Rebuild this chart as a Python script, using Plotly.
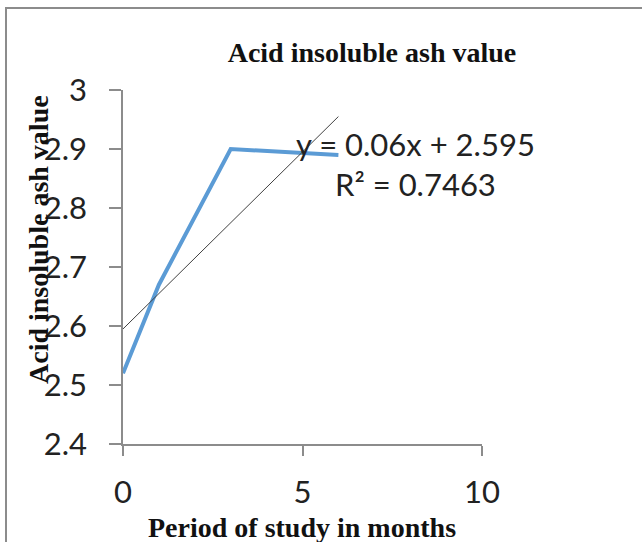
import plotly.graph_objects as go

months = [0, 1, 3, 6]
ash_values = [2.52, 2.67, 2.90, 2.89]
trend_slope = 0.06
trend_intercept = 2.595
trend_r2 = 0.7463
trend_x = [0, 6]
x_ticks = [0, 5, 10]
y_ticks = [2.4, 2.5, 2.6, 2.7, 2.8, 2.9, 3.0]
y_tick_labels = ["2.4", "2.5", "2.6", "2.7", "2.8", "2.9", "3"]

trend_y = [trend_slope * x + trend_intercept for x in trend_x]

fig = go.Figure()
fig.add_trace(go.Scatter(x=months, y=ash_values, mode="lines",
                         line=dict(color="#5B9BD5", width=4), showlegend=False))
fig.add_trace(go.Scatter(x=trend_x, y=trend_y, mode="lines",
                         line=dict(color="#404040", width=1), showlegend=False))

tick_font = dict(family="Lato, Liberation Sans, sans-serif", size=31, color="#222")
serif_bold = dict(family="Liberation Serif, Times New Roman, serif", size=28, color="#111")

fig.update_layout(
    width=642, height=542,
    margin=dict(l=123, r=160, t=90, b=98),
    paper_bgcolor="white", plot_bgcolor="white",
    title=dict(text="<b>Acid insoluble ash value</b>", x=(372) / 642, xanchor="center",
               y=1 - 52 / 542, yanchor="middle", font=serif_bold),
    xaxis=dict(range=[0, 10], tickvals=x_ticks, showgrid=False, zeroline=False,
               showline=True, linecolor="#8c8c8c", linewidth=1.5,
               ticks="outside", ticklen=10, tickcolor="#8c8c8c", tickwidth=1.5,
               tickfont=tick_font, ticklabelstandoff=10),
    yaxis=dict(range=[2.4, 3.0], tickvals=y_ticks, ticktext=y_tick_labels,
               showgrid=False, zeroline=False,
               showline=True, linecolor="#8c8c8c", linewidth=1.5,
               ticks="outside", ticklen=12, tickcolor="#8c8c8c", tickwidth=1.5,
               tickfont=tick_font, ticklabelstandoff=16),
    annotations=[
        dict(text="<b>Acid insoluble ash value</b>", textangle=-90, xref="paper", yref="paper",
             x=(38 - 123) / 359, y=(444 - 240) / 354, showarrow=False, font=serif_bold,
             xanchor="center", yanchor="middle"),
        dict(text="<b>Period of study in months</b>", xref="paper", yref="paper",
             x=(302 - 123) / 359, y=(444 - 527) / 354, showarrow=False, font=serif_bold,
             xanchor="center", yanchor="middle"),
        dict(text=f"y = {trend_slope}x + {trend_intercept}<br>R² = {trend_r2}",
             xref="paper", yref="paper", x=(415 - 123) / 359, y=(444 - 164) / 354,
             showarrow=False, font=tick_font, xanchor="center", yanchor="middle", align="center"),
    ],
    shapes=[dict(type="rect", xref="paper", yref="paper",
                 x0=(6 - 123) / 359, x1=(700 - 123) / 359,
                 y0=(444 - 600) / 354, y1=(444 - 8) / 354,
                 line=dict(color="#8c8c8c", width=2), layer="below")],
)
fig.write_html("out.html")
